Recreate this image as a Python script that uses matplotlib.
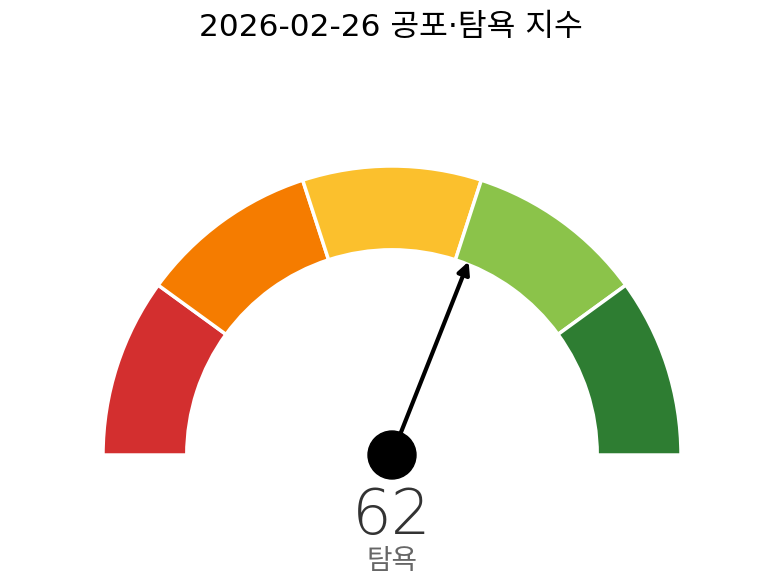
import numpy as np
import matplotlib.pyplot as plt
from matplotlib.patches import Wedge, Circle

plt.rcParams['font.family'] = ['DejaVu Sans', 'Noto Sans CJK KR']

# =========================
# DATA
# =========================
TITLE = "2026-02-26 공포·탐욕 지수"
VALUE = 62
LABEL = "탐욕"
BOUNDS = [0, 20, 40, 60, 80, 100]
COLORS = ["#d32f2f", "#f57c00", "#fbc02d", "#8bc34a", "#2e7d32"]


def to_angle(v):
    return 180 - v / 100 * 180


fig = plt.figure(figsize=(7.82, 5.86), dpi=100)
ax = fig.add_axes([0, 0, 1, 1])
ax.set_xlim(-392 / 289, 390 / 289)
ax.set_ylim(-131 / 289, 455 / 289)
ax.set_aspect("equal")
ax.axis("off")

# segments
for i, c in enumerate(COLORS):
    a1 = to_angle(BOUNDS[i + 1])
    a2 = to_angle(BOUNDS[i])
    ax.add_patch(Wedge((0, 0), 1.0, a1, a2, width=0.29,
                       facecolor=c, edgecolor="white", linewidth=2.5))

# needle
ang = np.deg2rad(to_angle(VALUE))
L = 0.72
ax.annotate("", xy=(L * np.cos(ang), L * np.sin(ang)), xytext=(0, 0),
            arrowprops=dict(arrowstyle="-|>", color="black", lw=3,
                            mutation_scale=18, shrinkA=0, shrinkB=0))
ax.add_patch(Circle((0, 0), 0.083, color="black", zorder=5))

# texts
ax.text(0, -0.272, str(VALUE), ha="center", va="baseline",
        fontsize=45, color="#333333", fontweight="light")
ax.text(0, -0.368, LABEL, ha="center", va="center",
        fontsize=20, color="#666666")
fig.text(0.5, 1 - 27 / 586, TITLE, ha="center", va="center",
         fontsize=22.5, color="black")

plt.savefig("out.png", dpi=100)
